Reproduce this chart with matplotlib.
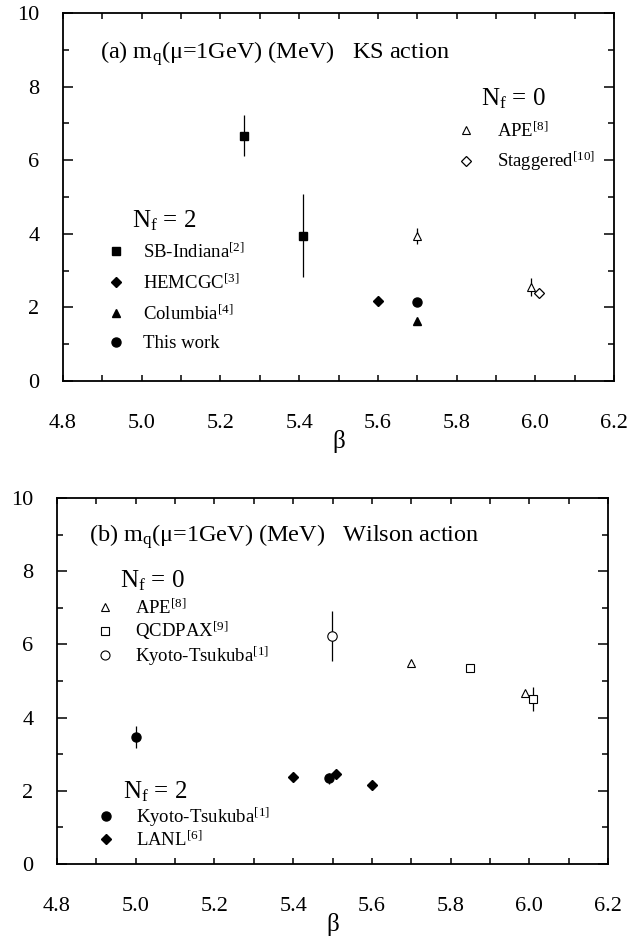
import matplotlib
matplotlib.use("Agg")
import matplotlib.pyplot as plt
from matplotlib.lines import Line2D
from matplotlib.ticker import MultipleLocator

plt.rcParams['font.family'] = ['Liberation Serif', 'DejaVu Serif']
plt.rcParams['mathtext.fontset'] = 'custom'
plt.rcParams['mathtext.rm'] = 'Liberation Serif'
plt.rcParams['mathtext.it'] = 'Liberation Serif:italic'
plt.rcParams['mathtext.bf'] = 'Liberation Serif:bold'

# ---------------- data: panel (a) KS action ----------------
sb_x = [5.26, 5.41]
sb_y = [6.67, 3.95]
sb_err = [0.56, 1.12]
hem_x = [5.60]
hem_y = [2.18]
col_x = [5.70]
col_y = [1.64]
tw_x = [5.70]
tw_y = [2.15]
apeA_x = [5.70, 5.99]
apeA_y = [3.94, 2.56]
apeA_err = [0.22, 0.25]
stag_x = [6.01]
stag_y = [2.40]

# ---------------- data: panel (b) Wilson action ----------------
apeB_x = [5.70, 5.99]
apeB_y = [5.48, 4.68]
qcd_x = [5.85, 6.01]
qcd_y = [5.35, 4.50]
qcd_err = [0.0, 0.33]
kt0_x = [5.50]
kt0_y = [6.23]
kt0_err = [0.67]
kt2_x = [5.00, 5.49]
kt2_y = [3.46, 2.34]
kt2_err = [0.30, 0.15]
lanl_x = [5.40, 5.51, 5.60]
lanl_y = [2.37, 2.45, 2.17]

x_ticks = [4.8, 5.0, 5.2, 5.4, 5.6, 5.8, 6.0, 6.2]
y_ticks = [0, 2, 4, 6, 8, 10]

fig = plt.figure(figsize=(6.31, 9.42), dpi=100)
axA = fig.add_axes([63/631, 1-381/942, 551/631, 368/942])
axB = fig.add_axes([57/631, 1-864/942, 551/631, 366/942])

def style(ax):
    ax.set_xlim(4.8, 6.2)
    ax.set_ylim(0, 10)
    ax.set_xticks(x_ticks)
    ax.set_xticklabels([f"{v:.1f}" for v in x_ticks])
    ax.set_yticks(y_ticks)
    ax.set_yticklabels([str(v) for v in y_ticks])
    ax.xaxis.set_minor_locator(MultipleLocator(0.1))
    ax.yaxis.set_minor_locator(MultipleLocator(1))
    ax.tick_params(axis='both', which='both', direction='in', top=True, right=True,
                   width=1.1, colors='black')
    ax.tick_params(axis='x', which='both', length=4.5, pad=23.5, labelsize=16)
    ax.tick_params(axis='y', which='major', length=7.5, pad=17, labelsize=16)
    ax.tick_params(axis='y', which='minor', length=4.5)
    for s in ax.spines.values():
        s.set_linewidth(1.3)
    ax.set_xlabel('β', fontsize=18, labelpad=-2)

ebkw = dict(linestyle='none', ecolor='black', elinewidth=0.9, capsize=0, color='black')

# panel (a)
axA.errorbar(sb_x, sb_y, yerr=sb_err, marker='s', ms=6.0, mfc='black', mec='black', **ebkw)
axA.errorbar(apeA_x, apeA_y, yerr=apeA_err, marker='^', ms=5.2, mfc='white', mec='black', mew=0.8, **ebkw)
axA.plot(hem_x, hem_y, linestyle='none', marker='D', ms=5.5, color='black')
axA.plot(col_x, col_y, linestyle='none', marker='^', ms=6.0, color='black')
axA.plot(tw_x, tw_y, linestyle='none', marker='o', ms=6.5, color='black')
axA.plot(stag_x, stag_y, linestyle='none', marker='D', ms=5.6, mfc='white', mec='black', mew=0.9)
style(axA)

axA.text(0.067, 0.875, '(a) m$_{\\mathrm{q}}$(μ=1GeV) (MeV)   KS action',
         transform=axA.transAxes, fontsize=17.5, ha='left', va='baseline')
axA.text(0.759, 0.749, 'N$_{\\mathrm{f}}$ = 0', transform=axA.transAxes,
         fontsize=18, ha='left', va='baseline')
axA.text(0.125, 0.417, 'N$_{\\mathrm{f}}$ = 2', transform=axA.transAxes,
         fontsize=18, ha='left', va='baseline')

hA2 = [Line2D([], [], ls='none', marker='s', ms=6.0, color='black'),
       Line2D([], [], ls='none', marker='D', ms=5.5, color='black'),
       Line2D([], [], ls='none', marker='^', ms=6.0, color='black'),
       Line2D([], [], ls='none', marker='o', ms=6.5, color='black')]
lA2 = ['SB-Indiana$^{[2]}$', 'HEMCGC$^{[3]}$', 'Columbia$^{[4]}$', 'This work']
legA2 = axA.legend(hA2, lA2, loc='upper left', bbox_to_anchor=(0.079, 0.376),
                   frameon=False, fontsize=13.5, handlelength=1.0, handletextpad=0.95,
                   labelspacing=0.61, borderpad=0, borderaxespad=0, numpoints=1)
axA.add_artist(legA2)

hA0 = [Line2D([], [], ls='none', marker='^', ms=5.2, mfc='white', mec='black', mew=0.8),
       Line2D([], [], ls='none', marker='D', ms=5.6, mfc='white', mec='black', mew=0.9)]
lA0 = ['APE$^{[8]}$', 'Staggered$^{[10]}$']
axA.legend(hA0, lA0, loc='upper left', bbox_to_anchor=(0.715, 0.705),
           frameon=False, fontsize=13.5, handlelength=1.0, handletextpad=1.15,
           labelspacing=0.48, borderpad=0, borderaxespad=0, numpoints=1)

# panel (b)
axB.errorbar(kt0_x, kt0_y, yerr=kt0_err, marker='o', ms=6.8, mfc='white', mec='black', mew=0.8, **ebkw)
axB.errorbar(qcd_x, qcd_y, yerr=qcd_err, marker='s', ms=6.0, mfc='white', mec='black', mew=0.8, **ebkw)
axB.plot(apeB_x, apeB_y, linestyle='none', marker='^', ms=5.2, mfc='white', mec='black', mew=0.8)
axB.errorbar(kt2_x, kt2_y, yerr=kt2_err, marker='o', ms=6.5, mfc='black', mec='black', **ebkw)
axB.plot(lanl_x, lanl_y, linestyle='none', marker='D', ms=5.5, color='black')
style(axB)

axB.text(0.058, 0.880, '(b) m$_{\\mathrm{q}}$(μ=1GeV) (MeV)   Wilson action',
         transform=axB.transAxes, fontsize=17.5, ha='left', va='baseline')
axB.text(0.114, 0.7555, 'N$_{\\mathrm{f}}$ = 0', transform=axB.transAxes,
         fontsize=18, ha='left', va='baseline')
axB.text(0.120, 0.179, 'N$_{\\mathrm{f}}$ = 2', transform=axB.transAxes,
         fontsize=18, ha='left', va='baseline')

hB0 = [Line2D([], [], ls='none', marker='^', ms=5.2, mfc='white', mec='black', mew=0.8),
       Line2D([], [], ls='none', marker='s', ms=5.5, mfc='white', mec='black', mew=0.8),
       Line2D([], [], ls='none', marker='o', ms=6.5, mfc='white', mec='black', mew=0.8)]
lB0 = ['APE$^{[8]}$', 'QCDPAX$^{[9]}$', 'Kyoto-Tsukuba$^{[1]}$']
legB0 = axB.legend(hB0, lB0, loc='upper left', bbox_to_anchor=(0.070, 0.725),
                   frameon=False, fontsize=13.5, handlelength=1.0, handletextpad=1.12,
                   labelspacing=0.1, borderpad=0, borderaxespad=0, numpoints=1)
axB.add_artist(legB0)

hB2 = [Line2D([], [], ls='none', marker='o', ms=6.5, color='black'),
       Line2D([], [], ls='none', marker='D', ms=5.5, color='black')]
lB2 = ['Kyoto-Tsukuba$^{[1]}$', 'LANL$^{[6]}$']
axB.legend(hB2, lB2, loc='upper left', bbox_to_anchor=(0.072, 0.160),
           frameon=False, fontsize=13.5, handlelength=1.0, handletextpad=1.12,
           labelspacing=0.08, borderpad=0, borderaxespad=0, numpoints=1)

fig.savefig('out.png', dpi=100)
